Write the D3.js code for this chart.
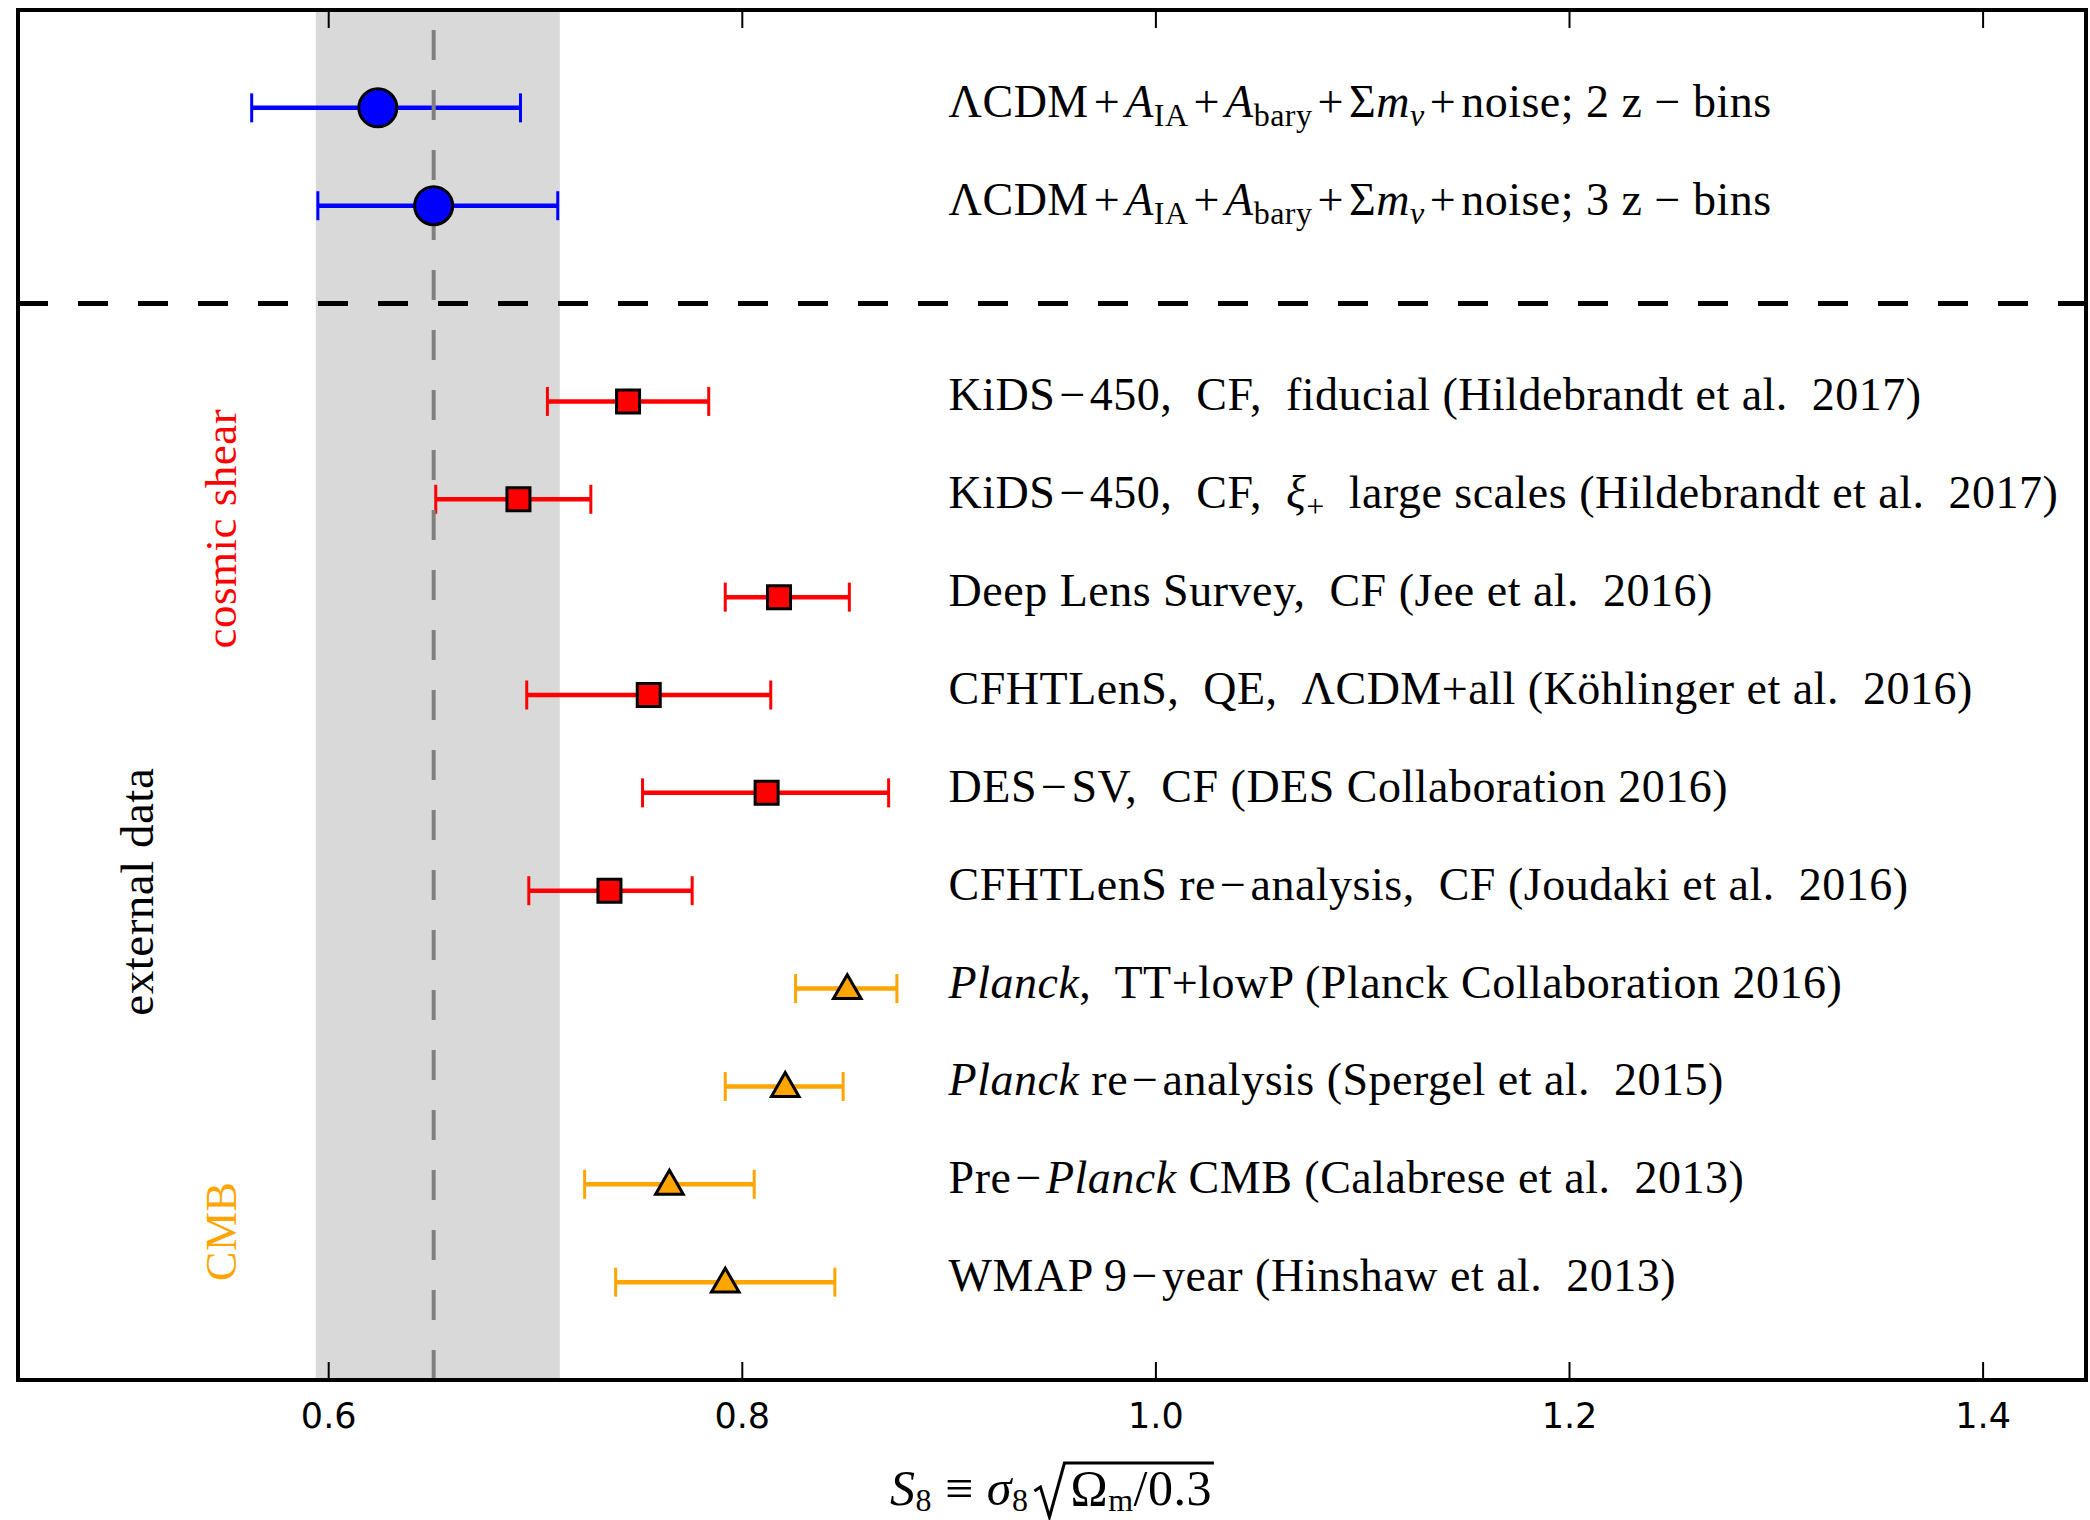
<!DOCTYPE html>
<html>
<head>
<meta charset="utf-8">
<script src="https://cdn.jsdelivr.net/npm/d3@7"></script>
<style>
  body { margin: 0; background: #fff; }
  svg { display: block; }
  .lab { font-family: "Liberation Serif", serif; font-size: 46px; letter-spacing: 0.5px; }
  .tick text { font-family: "DejaVu Sans", sans-serif; font-size: 35px; }
</style>
</head>
<body>
<script>
// S8 constraints, one row per entry (row 2 is the dashed divider)
var rows    = [0, 1, 3, 4, 5, 6, 7, 8, 9, 10, 11, 12];
var centers = [0.624, 0.651, 0.745, 0.692, 0.818, 0.755, 0.812, 0.736, 0.851, 0.821, 0.765, 0.792];
var lows    = [0.563, 0.595, 0.706, 0.652, 0.792, 0.696, 0.752, 0.697, 0.826, 0.792, 0.724, 0.739];
var highs   = [0.693, 0.711, 0.784, 0.727, 0.852, 0.814, 0.871, 0.776, 0.875, 0.849, 0.806, 0.845];
var kinds   = ["this", "this", "shear", "shear", "shear", "shear", "shear", "shear", "cmb", "cmb", "cmb", "cmb"];

// label pieces: [text, style]  n = upright, i = italic, s = subscript, si = italic subscript, op = binary operator
var labels = [
  [["ΛCDM", "n"], ["+", "op"], ["A", "i"], ["IA", "s"], ["+", "op"], ["A", "i"], ["bary", "s"], ["+", "op"], ["Σ", "n"], ["m", "i"], ["ν", "si"], ["+", "op"], ["noise; 2 z − bins", "n"]],
  [["ΛCDM", "n"], ["+", "op"], ["A", "i"], ["IA", "s"], ["+", "op"], ["A", "i"], ["bary", "s"], ["+", "op"], ["Σ", "n"], ["m", "i"], ["ν", "si"], ["+", "op"], ["noise; 3 z − bins", "n"]],
  [["KiDS", "n"], ["−", "op"], ["450,  CF,  fiducial (Hildebrandt et al.  2017)", "n"]],
  [["KiDS", "n"], ["−", "op"], ["450,  CF,  ", "n"], ["ξ", "i"], ["+", "s"], ["  large scales (Hildebrandt et al.  2017)", "n"]],
  [["Deep Lens Survey,  CF (Jee et al.  2016)", "n"]],
  [["CFHTLenS,  QE,  ΛCDM+all (Köhlinger et al.  2016)", "n"]],
  [["DES", "n"], ["−", "op"], ["SV,  CF (DES Collaboration 2016)", "n"]],
  [["CFHTLenS re", "n"], ["−", "op"], ["analysis,  CF (Joudaki et al.  2016)", "n"]],
  [["Planck", "i"], [",  TT+lowP (Planck Collaboration 2016)", "n"]],
  [["Planck", "i"], [" re", "n"], ["−", "op"], ["analysis (Spergel et al.  2015)", "n"]],
  [["Pre", "n"], ["−", "op"], ["Planck", "i"], [" CMB (Calabrese et al.  2013)", "n"]],
  [["WMAP 9", "n"], ["−", "op"], ["year (Hinshaw et al.  2013)", "n"]]
];

var xTicks = [0.6, 0.8, 1.0, 1.2, 1.4];
var band = [0.594, 0.712];
var bandCenter = 0.651;
var dividerRow = 2;
var labelX = 0.9;

var colors = { "this": "#0000ff", "shear": "#ff0000", "cmb": "#ffa500" };

var width = 2090, height = 1520;
var pl = 18, pr = 2086, pt = 10, pb = 1380;

var svg = d3.select("body").append("svg")
  .attr("width", width)
  .attr("height", height);

var x = d3.scaleLinear().domain([0.45, 1.45]).range([pl, pr]);
var y = d3.scaleLinear().domain([-1, 13]).range([pt, pb]);

// shaded band
svg.append("rect")
  .attr("x", x(band[0]))
  .attr("y", pt)
  .attr("width", x(band[1]) - x(band[0]))
  .attr("height", pb - pt)
  .attr("fill", "#d9d9d9");

// divider
svg.append("line")
  .attr("x1", pl).attr("x2", pr)
  .attr("y1", y(dividerRow)).attr("y2", y(dividerRow))
  .attr("stroke", "#000")
  .attr("stroke-width", 5)
  .attr("stroke-dasharray", "30,30");

var data = rows.map(function(r, i) {
  return { row: r, c: centers[i], lo: lows[i], hi: highs[i], kind: kinds[i], label: labels[i] };
});

// error bars
var eb = svg.append("g").selectAll("g")
  .data(data)
  .enter().append("g")
  .attr("stroke", function(d) { return colors[d.kind]; });

eb.append("line")
  .attr("x1", function(d) { return x(d.lo); })
  .attr("x2", function(d) { return x(d.hi); })
  .attr("y1", function(d) { return y(d.row); })
  .attr("y2", function(d) { return y(d.row); })
  .attr("stroke-width", 4.5);

eb.selectAll(".cap")
  .data(function(d) { return [[d.lo, d.row], [d.hi, d.row]]; })
  .enter().append("line")
  .attr("class", "cap")
  .attr("x1", function(p) { return x(p[0]); })
  .attr("x2", function(p) { return x(p[0]); })
  .attr("y1", function(p) { return y(p[1]) - 14.5; })
  .attr("y2", function(p) { return y(p[1]) + 14.5; })
  .attr("stroke-width", 3);

// central value line
svg.append("line")
  .attr("x1", x(bandCenter)).attr("x2", x(bandCenter))
  .attr("y1", pb).attr("y2", pt)
  .attr("stroke", "#808080")
  .attr("stroke-width", 4)
  .attr("stroke-dasharray", "30,30");

// markers
var shapes = { "this": d3.symbolCircle, "shear": d3.symbolSquare, "cmb": d3.symbolTriangle };
var sizes = { "this": Math.PI * 19 * 19, "shear": 23 * 23, "cmb": 330 };
svg.append("g").selectAll("path")
  .data(data)
  .enter().append("path")
  .attr("transform", function(d) {
    var dy = d.kind === "cmb" ? 2 : 0;
    return "translate(" + x(d.c) + "," + (y(d.row) + dy) + ")";
  })
  .attr("d", function(d) { return d3.symbol().type(shapes[d.kind]).size(sizes[d.kind])(); })
  .attr("fill", function(d) { return colors[d.kind]; })
  .attr("stroke", "#000")
  .attr("stroke-width", 3);

// row labels
data.forEach(function(d) {
  var t = svg.append("text")
    .attr("class", "lab")
    .attr("font-family", "Liberation Serif")
    .attr("x", x(labelX))
    .attr("y", y(d.row) + 9)
    .style("white-space", "pre");
  var shift = 0, pad = false;
  d.label.forEach(function(seg) {
    var sub = seg[1] === "s" || seg[1] === "si";
    var ts = t.append("tspan").text(seg[0]);
    var target = sub ? 9 : 0;
    if (target !== shift) { ts.attr("dy", target - shift); shift = target; }
    if (seg[1] === "i" || seg[1] === "si") ts.attr("font-style", "italic");
    if (sub) ts.attr("font-size", "32px");
    if (pad || seg[1] === "op") ts.attr("dx", seg[0] === "+" || pad === "+" ? 5 : 4);
    pad = seg[1] === "op" ? seg[0] : false;
  });
});

// group labels
function sideLabel(txt, cx, cy, col, fs) {
  svg.append("text")
    .attr("class", "lab")
    .attr("font-family", "Liberation Serif")
    .attr("transform", "translate(" + cx + "," + cy + ") rotate(-90)")
    .attr("text-anchor", "middle")
    .attr("fill", col)
    .style("font-size", fs + "px")
    .text(txt);
}
sideLabel("cosmic shear", 236, y(4.30), colors.shear, 45);
sideLabel("external data", 153, y(8.01), "#000", 47);
sideLabel("CMB", 236, y(11.48), colors.cmb, 44);

// axes
var xAxis = svg.append("g")
  .attr("transform", "translate(0," + pb + ")")
  .call(d3.axisBottom(x).tickValues(xTicks).tickSizeInner(-18).tickSizeOuter(0).tickFormat(d3.format(".1f")));
xAxis.select(".domain").remove();
xAxis.selectAll(".tick line").attr("stroke-width", 2);
xAxis.selectAll(".tick text").attr("y", 48).attr("dy", 0).attr("fill", "#000");

var xTop = svg.append("g")
  .attr("transform", "translate(0," + pt + ")")
  .call(d3.axisTop(x).tickValues(xTicks).tickSizeInner(-18).tickSizeOuter(0).tickFormat(""));
xTop.select(".domain").remove();
xTop.selectAll(".tick line").attr("stroke-width", 2);

// frame
svg.append("rect")
  .attr("x", pl).attr("y", pt)
  .attr("width", pr - pl).attr("height", pb - pt)
  .attr("fill", "none")
  .attr("stroke", "#000")
  .attr("stroke-width", 4);

// x label: S8 = sigma8 sqrt(Omega_m / 0.3)
var xl = svg.append("g").attr("class", "lab").attr("font-family", "Liberation Serif").style("font-size", "50px");
var base = 1505;
var ta = xl.append("text").attr("x", 0).attr("y", base);
ta.append("tspan").attr("font-style", "italic").text("S");
ta.append("tspan").attr("font-size", "32px").attr("dy", 6).text("8");
ta.append("tspan").attr("dy", -6).text(" ≡ ");
ta.append("tspan").attr("font-style", "italic").text("σ");
ta.append("tspan").attr("font-size", "32px").attr("dy", 6).text("8");
var wA = ta.node().getComputedTextLength();
var r0 = wA + 6;
var rTop = 1463;
var r1 = r0 + 30;
var tb = xl.append("text").attr("x", r1 + 6).attr("y", base);
tb.append("tspan").text("Ω");
tb.append("tspan").attr("font-size", "32px").attr("dy", 6).text("m");
tb.append("tspan").attr("dy", -6).text("/0.3");
var wB = tb.node().getComputedTextLength();
var end = r1 + 6 + wB + 2;
xl.append("path")
  .attr("d", "M" + r0 + "," + (base - 14) + "L" + (r0 + 6) + "," + (base - 18) +
    "L" + (r0 + 15) + "," + (base + 12) + "L" + r1 + "," + rTop + "L" + end + "," + rTop)
  .attr("fill", "none")
  .attr("stroke", "#000")
  .attr("stroke-width", 3);
xl.attr("transform", "translate(" + ((pl + pr) / 2 - end / 2) + ",0)");
</script>
</body>
</html>
